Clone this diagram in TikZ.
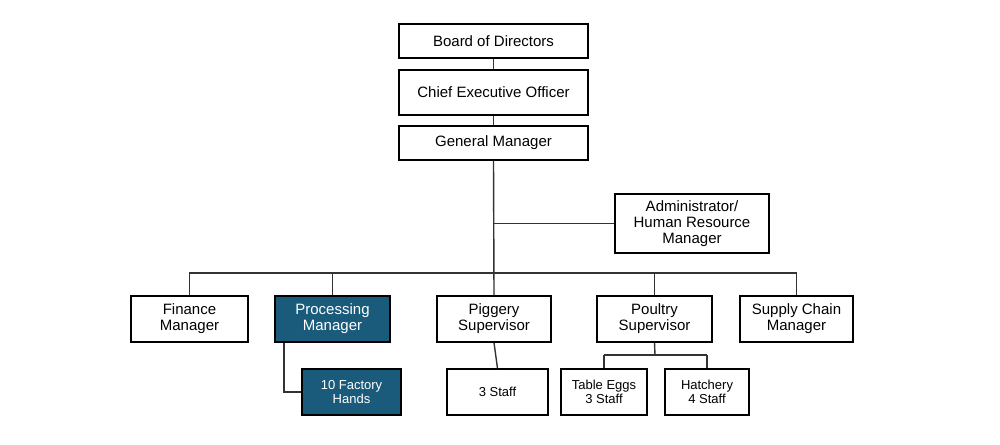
\documentclass[tikz,border=0pt]{standalone}
\usepackage{fontspec}
\setmainfont{Liberation Sans}
\definecolor{blu}{HTML}{1A5B7C}
\begin{document}
\begin{tikzpicture}[x=1pt,y=-1pt,
 bx/.style={draw=black,line width=1.4pt,fill=white,font=\fontsize{15}{16}\selectfont,align=center,inner sep=0pt},
 sm/.style={bx,font=\fontsize{13}{14}\selectfont},
 hl/.style={fill=blu,text=white},
 ln/.style={draw=black!80,line width=1.4pt}]
\useasboundingbox (0,0) rectangle (1000,444);
\newcommand{\bnode}[7]{\node[#1,minimum width=#4-#2,minimum height=#5-#3] (#6) at ({(#2+#4)/2},{(#3+#5)/2}) {#7};}
\bnode{bx}{399}{24}{588}{58}{bod}{Board of Directors}
\bnode{bx}{399}{70}{588}{115}{ceo}{Chief Executive Officer}
\bnode{bx}{399}{126}{588}{160}{gm}{General Manager}
\bnode{bx}{615}{194}{769}{253}{adm}{Administrator/\\Human Resource\\Manager}
\bnode{bx}{131}{296}{248}{342}{fin}{Finance\\Manager}
\bnode{bx,hl}{275}{296}{390}{342}{pro}{Processing\\Manager}
\bnode{bx}{437}{296}{551}{342}{pig}{Piggery\\Supervisor}
\bnode{bx}{597}{296}{712}{342}{pou}{Poultry\\Supervisor}
\bnode{bx}{740}{296}{853}{342}{sup}{Supply Chain\\Manager}
\bnode{sm,hl}{302}{369}{401}{415}{fac}{10 Factory\\Hands}
\bnode{sm}{447}{369}{548}{415}{stf}{3 Staff}
\bnode{sm}{561}{369}{647}{415}{egg}{Table Eggs\\3 Staff}
\bnode{sm}{665}{369}{749}{415}{hat}{Hatchery\\4 Staff}
\coordinate (bus) at (494,273);
\begin{scope}[on background layer/.style={}]
\draw[ln] (bod.south) -- (ceo.north);
\draw[ln] (ceo.south) -- (gm.north);
\draw[ln] (gm.south) -- (pig.north);
\draw[ln] (adm.west) -- (gm.south |- adm.west);
\draw[ln] (fin.north) -- (fin.north |- bus) -- (sup.north |- bus) -- (sup.north);
\draw[ln] (pro.north) -- (pro.north |- bus);
\draw[ln] (pou.north) -- (pou.north |- bus);
\draw[ln] (pig.south) -- (stf.north);
\draw[ln] (pro.south -| 284,0) -- (284,392) -- (fac.west);
\draw[ln] (pou.south) -- (655,355);
\draw[ln] (egg.north |- 0,355) -- (hat.north |- 0,355);
\draw[ln] (egg.north |- 0,355) -- (egg.north);
\draw[ln] (hat.north |- 0,355) -- (hat.north);
\end{scope}
\end{tikzpicture}
\end{document}
